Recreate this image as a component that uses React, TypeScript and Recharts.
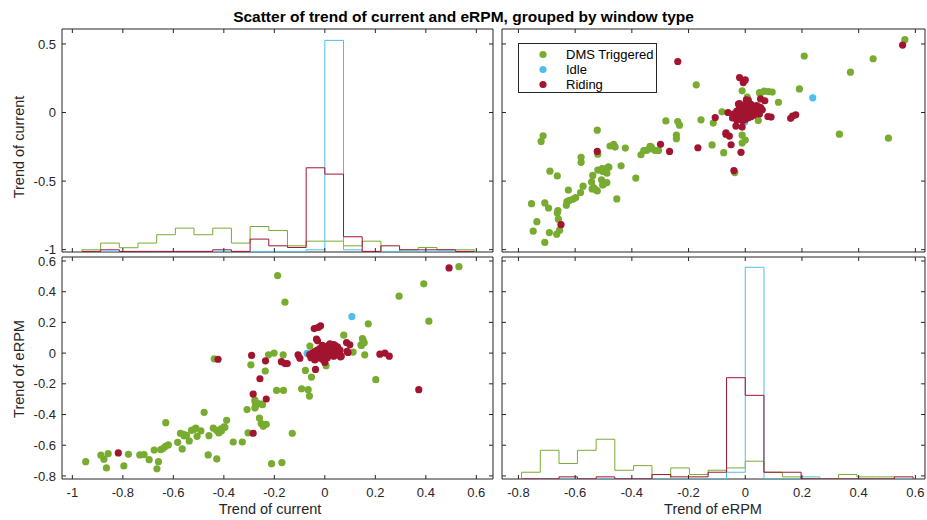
import { ScatterChart, LineChart, Scatter, Line, XAxis, YAxis, Legend, ReferenceArea } from 'recharts';

const GREEN = '#77AC30';
const BLUE = '#4DBEEE';
const RED = '#A2142F';
const INK = '#262626';
const FONT = '"Liberation Sans", Arial, Helvetica, sans-serif';

const groupNames = ['DMS Triggered', 'Idle', 'Riding'];
const groupColors = [GREEN, BLUE, RED];

// scatter: trend of current (x in bottom-left) vs trend of eRPM
const dmsCurrent = [
  -0.947, -0.887, -0.875, -0.858, -0.865, -0.796, -0.778, -0.733, -0.716, -0.696,
  -0.676, -0.665, -0.659, -0.65, -0.64, -0.631, -0.62, -0.63, -0.583, -0.572,
  -0.565, -0.557, -0.548, -0.537, -0.528, -0.511, -0.506, -0.491, -0.478, -0.462,
  -0.459, -0.442, -0.428, -0.429, -0.42, -0.411, -0.399, -0.389, -0.363, -0.327,
  -0.308, -0.304, -0.438, -0.293, -0.276, -0.275, -0.264, -0.247, -0.259, -0.252,
  -0.244, -0.232, -0.236, -0.223, -0.201, -0.211, -0.191, -0.187, -0.17, -0.165,
  -0.164, -0.158, -0.129, -0.092, -0.077, -0.066, -0.061, -0.053, -0.059, 0.005,
  0.075, 0.112, 0.145, 0.152, 0.156, 0.158, 0.172, 0.202, 0.294, 0.392,
  0.412, 0.531, -0.56, -0.519, -0.409, -0.396, -0.277, -0.277, -0.251, 0.149,
  0.143,
];
const dmsErpm = [
  -0.707, -0.665, -0.691, -0.655, -0.748, -0.735, -0.659, -0.663, -0.661, -0.694,
  -0.631, -0.754, -0.707, -0.629, -0.62, -0.607, -0.598, -0.453, -0.581, -0.522,
  -0.624, -0.54, -0.535, -0.572, -0.503, -0.488, -0.542, -0.507, -0.386, -0.663,
  -0.538, -0.488, -0.689, -0.503, -0.52, -0.494, -0.481, -0.438, -0.579, -0.579,
  -0.368, -0.52, -0.037, -0.076, -0.319, -0.347, -0.329, -0.336, -0.423, -0.459,
  -0.477, -0.464, -0.117, -0.011, 0.0, -0.72, -0.243, 0.505, -0.713, -0.011,
  -0.243, 0.332, -0.522, -0.232, -0.113, -0.238, -0.28, -0.156, 0.046, -0.082,
  0.117, 0.007, 0.05, 0.082, 0.067, -0.011, 0.191, -0.173, 0.371, 0.451,
  0.208, 0.563, -0.529, -0.498, -0.505, -0.483, -0.306, -0.358, -0.332, 0.095,
  0.054,
];
const idleCurrent = [-0.07, 0.107];
const idleErpm = [-0.002, 0.238];
const ridingCurrent = [
  -0.818, -0.423, -0.29, -0.284, -0.284, -0.257, -0.235, -0.232, -0.172, -0.158,
  -0.149, -0.106, -0.099, -0.042, -0.026, -0.017, -0.033, -0.029, -0.037, 0.0,
  0.062, 0.086, 0.099, 0.092, 0.088, 0.218, 0.238, 0.255, 0.372, 0.492,
  -0.06, -0.055, -0.05, -0.045, -0.04, -0.035, -0.03, -0.03, -0.025, -0.02,
  -0.02, -0.015, -0.01, -0.01, -0.005, 0.0, 0.0, 0.005, 0.01, 0.01,
  0.015, 0.02, 0.02, 0.025, 0.03, 0.03, 0.035, 0.04, 0.04, 0.045,
  0.05, 0.05, 0.055, 0.06, -0.01, 0.02, 0.035, -0.04, 0.065,
];
const ridingErpm = [
  -0.65, -0.04, -0.015, -0.267, -0.522, -0.167, -0.05, -0.299, -0.056, -0.068,
  -0.068, -0.011, -0.033, 0.16, 0.167, 0.178, 0.091, 0.08, -0.106, -0.061,
  -0.024, 0.069, 0.054, 0.004, 0.011, -0.007, 0.0, -0.02, -0.238, 0.555,
  -0.01, -0.03, 0.0, -0.02, 0.01, -0.035, -0.01, 0.02, 0.0, -0.03,
  0.03, -0.01, 0.01, -0.04, 0.02, -0.02, 0.04, 0.0, 0.03, -0.03,
  0.05, 0.01, -0.01, 0.04, 0.0, 0.025, -0.02, 0.05, 0.01, 0.03,
  -0.01, 0.04, 0.0, 0.02, 0.05, 0.06, 0.055, -0.045, -0.02,
];

// histogram bin edges and stair heights (drawn in each diagonal panel's own units)
const currentEdges = [
  -0.962, -0.888, -0.814, -0.74, -0.666, -0.592, -0.518, -0.444, -0.37, -0.296, -0.222,
  -0.148, -0.074, 0, 0.074, 0.148, 0.222, 0.296, 0.37, 0.444, 0.518, 0.592,
];
const currentBase = -1.013;
const dmsCurrentHist = [
  -1.001, -0.952, -0.986, -0.952, -0.891, -0.843, -0.891, -0.843, -0.952, -0.831, -0.86,
  -0.972, -0.938, -0.938, -0.972, -0.938, -1.013, -1.001, -0.984, -1.001, -1.001,
];
const idleCurrentHist = [
  -1.013, -1.013, -1.013, -1.013, -1.013, -1.013, -1.013, -1.013, -1.013, -1.013, -1.013,
  -1.013, -1.001, 0.526, -1.001, -1.013, -1.013, -1.013, -1.013, -1.013, -1.013,
];
const ridingCurrentHist = [
  -1.013, -1.001, -1.013, -1.013, -1.013, -1.013, -1.013, -1.001, -1.013, -0.923, -0.972,
  -0.984, -0.403, -0.449, -0.906, -1.013, -0.972, -1.001, -1.001, -1.001, -1.013,
];

const erpmEdges = [
  -0.789, -0.723, -0.657, -0.592, -0.526, -0.46, -0.394, -0.329, -0.263, -0.197, -0.131,
  -0.066, 0, 0.066, 0.131, 0.197, 0.263, 0.329, 0.394, 0.46, 0.526, 0.592,
];
const erpmBase = -0.819;
const dmsErpmHist = [
  -0.776, -0.633, -0.719, -0.633, -0.561, -0.763, -0.733, -0.819, -0.748, -0.791, -0.763,
  -0.748, -0.704, -0.776, -0.806, -0.819, -0.819, -0.791, -0.806, -0.806, -0.819,
];
const idleErpmHist = [
  -0.819, -0.819, -0.819, -0.819, -0.819, -0.819, -0.819, -0.819, -0.819, -0.819, -0.819,
  -0.776, 0.559, -0.819, -0.819, -0.806, -0.819, -0.819, -0.819, -0.819, -0.819,
];
const ridingErpmHist = [
  -0.819, -0.819, -0.806, -0.819, -0.806, -0.819, -0.819, -0.791, -0.806, -0.806, -0.776,
  -0.16, -0.275, -0.776, -0.776, -0.819, -0.819, -0.819, -0.819, -0.819, -0.806,
];

const currentTicks = [-1, -0.8, -0.6, -0.4, -0.2, 0, 0.2, 0.4, 0.6];
const currentRowTicks = [-1, -0.5, 0, 0.5];
const erpmTicks = [-0.8, -0.6, -0.4, -0.2, 0, 0.2, 0.4, 0.6];

const currentDomain: [number, number] = [-1.041, 0.666];
const currentRowDomain: [number, number] = [-1.017, 0.609];
const erpmDomain: [number, number] = [-0.858, 0.634];
const erpmRowDomain: [number, number] = [-0.82, 0.626];

const points = (xs: number[], ys: number[]) => xs.map((x, i) => ({ x, y: ys[i] }));

// stairs outline: up from the baseline, across each bin, back down
const stairs = (edges: number[], heights: number[], base: number) => {
  const out = [{ x: edges[0], y: base }];
  heights.forEach((h, i) => out.push({ x: edges[i], y: h }));
  out.push({ x: edges[edges.length - 1], y: heights[heights.length - 1] });
  out.push({ x: edges[edges.length - 1], y: base });
  return out;
};

const fmt = (v: number) => String(v);

const X_GAP = 8; // label distance below the box
const Y_GAP = 6; // label distance left of the box
const TICK = 4;

// tick marks point inward on both opposite edges; the label is optional
const xTick = (plotH: number, labels: boolean) => (p: any) => {
  const bottom = p.y - X_GAP;
  const top = bottom - plotH;
  return (
    <g>
      <line x1={p.x} x2={p.x} y1={bottom} y2={bottom - TICK} stroke={INK} />
      <line x1={p.x} x2={p.x} y1={top} y2={top + TICK} stroke={INK} />
      {labels && (
        <text x={p.x} y={p.y} dy="0.75em" textAnchor="middle" fill={INK} fontSize={13} fontFamily={FONT}>
          {fmt(p.payload.value)}
        </text>
      )}
    </g>
  );
};

const yTick = (plotW: number, labels: boolean) => (p: any) => {
  const left = p.x + Y_GAP;
  const right = left + plotW;
  return (
    <g>
      <line x1={left} x2={left + TICK} y1={p.y} y2={p.y} stroke={INK} />
      <line x1={right} x2={right - TICK} y1={p.y} y2={p.y} stroke={INK} />
      {labels && (
        <text x={p.x} y={p.y} dy="0.36em" textAnchor="end" fill={INK} fontSize={13} fontFamily={FONT}>
          {fmt(p.payload.value)}
        </text>
      )}
    </g>
  );
};

function frame(
  xDomain: [number, number],
  yDomain: [number, number],
  xTicks: number[],
  yTicks: number[],
  plotW: number,
  plotH: number,
  xLabels: boolean,
  yLabels: boolean
) {
  return [
    <XAxis
      key="x"
      type="number"
      dataKey="x"
      domain={xDomain}
      ticks={xTicks}
      allowDataOverflow
      interval={0}
      height={xLabels ? 26 : 10}
      tickSize={0}
      tickMargin={X_GAP}
      tickLine={false}
      axisLine={false}
      tick={xTick(plotH, xLabels)}
    />,
    <YAxis
      key="y"
      type="number"
      dataKey="y"
      domain={yDomain}
      ticks={yTicks}
      allowDataOverflow
      interval={0}
      width={yLabels ? 61 : 10}
      tickSize={0}
      tickMargin={Y_GAP}
      tickLine={false}
      axisLine={false}
      tick={yTick(plotW, yLabels)}
    />,
    <ReferenceArea
      key="box"
      x1={xDomain[0]}
      x2={xDomain[1]}
      y1={yDomain[0]}
      y2={yDomain[1]}
      fill="none"
      fillOpacity={0}
      stroke={INK}
      strokeWidth={1}
      ifOverflow="visible"
    />,
  ];
}

function LegendBox() {
  return (
    <div
      style={{
        width: 139,
        height: 50,
        boxSizing: 'border-box',
        border: `1px solid ${INK}`,
        background: '#fff',
        fontFamily: FONT,
        fontSize: 13,
        color: '#000',
        paddingTop: 3,
      }}
    >
      {groupNames.map((name, i) => (
        <div key={name} style={{ display: 'flex', alignItems: 'center', height: 15 }}>
          <svg width={47} height={15}>
            <circle cx={24} cy={7.5} r={3.6} fill={groupColors[i]} />
          </svg>
          <span>{name}</span>
        </div>
      ))}
    </div>
  );
}

const dot = (color: string) => (p: any) => <circle cx={p.cx} cy={p.cy} r={3.6} fill={color} />;

const margin = { top: 8, right: 1, bottom: 8, left: 1 };

const axisTitle: React.CSSProperties = {
  position: 'absolute',
  fontFamily: FONT,
  fontSize: 14.5,
  color: INK,
  whiteSpace: 'nowrap',
  transform: 'translate(-50%, -50%)',
};

export default function App() {
  const dms = points(dmsCurrent, dmsErpm);
  const idle = points(idleCurrent, idleErpm);
  const riding = points(ridingCurrent, ridingErpm);
  const dmsT = points(dmsErpm, dmsCurrent);
  const idleT = points(idleErpm, idleCurrent);
  const ridingT = points(ridingErpm, ridingCurrent);

  return (
    <div style={{ position: 'absolute', left: 0, top: 0, width: 927, height: 520, background: '#fff', fontFamily: FONT }}>
      {/* top-left: histogram of current */}
      <div style={{ position: 'absolute', left: 0, top: 21 }}>
        <LineChart width={494} height={249} margin={margin}>
          {frame(currentDomain, currentRowDomain, currentTicks, currentRowTicks, 431, 223, false, true)}
          <Line data={stairs(currentEdges, dmsCurrentHist, currentBase)} dataKey="y" type="stepAfter" stroke={GREEN} strokeWidth={1} dot={false} isAnimationActive={false} />
          <Line data={stairs(currentEdges, idleCurrentHist, currentBase)} dataKey="y" type="stepAfter" stroke={BLUE} strokeWidth={1} dot={false} isAnimationActive={false} />
          <Line data={stairs(currentEdges, ridingCurrentHist, currentBase)} dataKey="y" type="stepAfter" stroke={RED} strokeWidth={1} dot={false} isAnimationActive={false} />
        </LineChart>
      </div>

      {/* top-right: current vs eRPM */}
      <div style={{ position: 'absolute', left: 491, top: 21 }}>
        <ScatterChart width={435} height={249} margin={margin}>
          {frame(erpmDomain, currentRowDomain, erpmTicks, currentRowTicks, 423, 223, false, false)}
          <Scatter name="DMS Triggered" data={dmsT} fill={GREEN} shape={dot(GREEN)} isAnimationActive={false} />
          <Scatter name="Idle" data={idleT} fill={BLUE} shape={dot(BLUE)} isAnimationActive={false} />
          <Scatter name="Riding" data={ridingT} fill={RED} shape={dot(RED)} isAnimationActive={false} />
          <Legend
            layout="vertical"
            align="center"
            verticalAlign="middle"
            wrapperStyle={{ left: 27, top: 22, width: 139, height: 50 }}
            content={() => <LegendBox />}
          />
        </ScatterChart>
      </div>

      {/* bottom-left: eRPM vs current */}
      <div style={{ position: 'absolute', left: 0, top: 249 }}>
        <ScatterChart width={494} height={264} margin={margin}>
          {frame(currentDomain, erpmRowDomain, currentTicks, erpmTicks, 431, 222, true, true)}
          <Scatter name="DMS Triggered" data={dms} fill={GREEN} shape={dot(GREEN)} isAnimationActive={false} />
          <Scatter name="Idle" data={idle} fill={BLUE} shape={dot(BLUE)} isAnimationActive={false} />
          <Scatter name="Riding" data={riding} fill={RED} shape={dot(RED)} isAnimationActive={false} />
        </ScatterChart>
      </div>

      {/* bottom-right: histogram of eRPM */}
      <div style={{ position: 'absolute', left: 491, top: 249 }}>
        <LineChart width={435} height={264} margin={margin}>
          {frame(erpmDomain, erpmRowDomain, erpmTicks, erpmTicks, 423, 222, true, false)}
          <Line data={stairs(erpmEdges, dmsErpmHist, erpmBase)} dataKey="y" type="stepAfter" stroke={GREEN} strokeWidth={1} dot={false} isAnimationActive={false} />
          <Line data={stairs(erpmEdges, idleErpmHist, erpmBase)} dataKey="y" type="stepAfter" stroke={BLUE} strokeWidth={1} dot={false} isAnimationActive={false} />
          <Line data={stairs(erpmEdges, ridingErpmHist, erpmBase)} dataKey="y" type="stepAfter" stroke={RED} strokeWidth={1} dot={false} isAnimationActive={false} />
        </LineChart>
      </div>

      <div
        style={{
          position: 'absolute',
          left: 0,
          width: 927,
          top: 8,
          textAlign: 'center',
          fontWeight: 'bold',
          fontSize: 15.5,
          color: '#000',
        }}
      >
        Scatter of trend of current and eRPM, grouped by window type
      </div>
      <div style={{ ...axisTitle, left: 19, top: 147, transform: 'translate(-50%, -50%) rotate(-90deg)' }}>Trend of current</div>
      <div style={{ ...axisTitle, left: 19, top: 369, transform: 'translate(-50%, -50%) rotate(-90deg)' }}>Trend of eRPM</div>
      <div style={{ ...axisTitle, left: 270, top: 509 }}>Trend of current</div>
      <div style={{ ...axisTitle, left: 713, top: 509 }}>Trend of eRPM</div>
    </div>
  );
}
